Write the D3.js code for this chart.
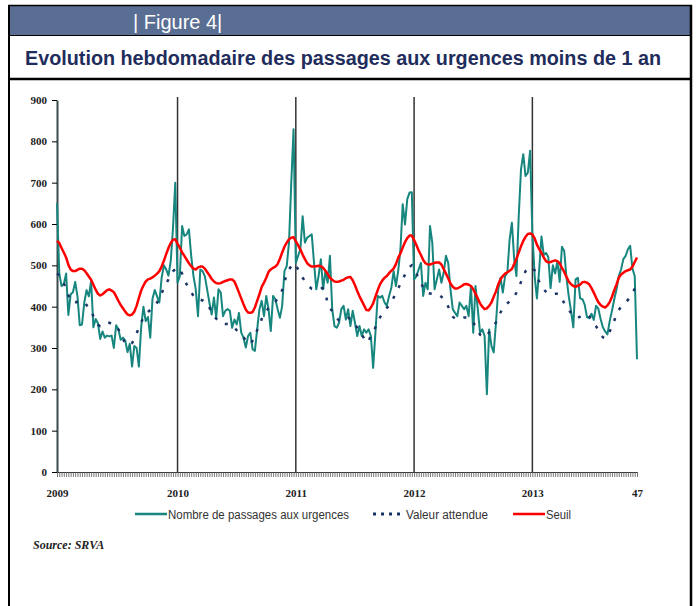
<!DOCTYPE html>
<html>
<head>
<meta charset="utf-8">
<script src="https://cdn.jsdelivr.net/npm/d3@7"></script>
<style>
body { margin: 0; background: #fff; }
.axis text { font-family: "Liberation Serif", "Times New Roman", serif; font-weight: bold; font-size: 11px; fill: #222; }
.legend text { font-family: "Liberation Sans", Arial, sans-serif; font-size: 12.5px; fill: #333; }
</style>
</head>
<body>
<div id="chart"></div>
<script>
// weekly values, 2009 week 1 -> 2013 week 47
var years = ['2009', '2010', '2011', '2012', '2013'];
var year_start = [0, 53, 105, 157, 209];
var last_week = 255;
var last_label = '47';
var y_ticks = [0, 100, 200, 300, 400, 500, 600, 700, 800, 900];
var legend_labels = ['Nombre de passages aux urgences', 'Valeur attendue', 'Seuil'];

var passages_2009 = [650,480,450,455,480,380,430,435,460,425, 355,357,410,440,425,462,350,370,360,322,
  340,325,330,328,330,300,355,345,320,325, 318,290,310,255,305,300,255,350,400,365,
  375,325,420,440,425,410,470,500,490,475, 510,590,700];
var passages_2010 = [458,474,595,571,575,587,523,474,442,377, 490,486,474,442,410,381,422,373,442,434,
  377,390,394,390,349,369,357,385,337,325, 301,329,337,297,293,345,394,414,377,426,
  394,341,426,418,394,373,402,486,498,555, 700,829];
var passages_2011 = [506,523,539,619,555,567,571,575,506,442, 474,515,442,486,458,523,394,353,349,361,
  394,402,369,394,353,390,361,329,353,329, 345,337,345,329,252,337,426,422,426,410,
  402,426,446,486,450,486,539,648,599,660, 676,677];
var passages_2012 = [466,474,490,506,426,458,442,595,555,442, 466,490,458,482,523,506,442,394,385,377,
  410,402,394,402,377,450,337,450,394,337, 345,329,188,345,305,289,361,442,470,434,
  474,482,563,603,515,474,619,732,769,716, 724,777];
var passages_2013 = [579,474,420,490,570,525,530,520,445,500, 480,510,460,545,535,470,425,390,350,466,
  470,420,418,405,375,372,383,368,402,395, 370,350,340,333,365,390,418,442,474,490,
  515,523,539,547,492,474,273];

var attendue_2009 = [480,476,467,456,444,428,414,410,410,412, 414,414,411,404,396,389,377,365,356,353,
  355,359,362,361,358,352,352,345,335,322, 312,306,308,312,321,335,350,362,373,381,
  387,392,398,404,410,420,432,445,455,466, 478,486,490];
var attendue_2010 = [495,490,480,466,454,445,435,426,419,417, 417,415,412,410,398,387,377,371,366,361,
  359,358,358,357,354,349,343,337,333,326, 318,311,309,318,331,343,357,370,382,390,
  396,402,406,412,420,430,440,460,478,490, 498,505];
var attendue_2011 = [500,490,480,470,462,455,448,443,442,443, 444,445,444,430,410,396,390,382,373,366,
  365,367,370,373,370,363,355,350,345,335, 322,313,318,328,337,350,365,374,382,390,
  397,402,412,422,433,444,455,466,478,488, 496,500];
var attendue_2012 = [490,480,468,458,446,436,433,432,431,430, 430,428,424,418,410,400,388,376,371,370,
  371,373,374,374,372,369,362,352,342,332, 328,326,330,338,345,354,362,374,386,396,
  403,408,413,418,424,434,446,460,472,486, 492,495];
var attendue_2013 = [495,488,475,460,450,442,436,432,430,430, 431,431,430,420,408,398,392,385,378,373,
  373,376,379,381,381,376,369,361,353,343, 333,326,323,330,340,352,366,382,392,400,
  406,412,416,424,433,443,448];

var seuil_2009 = [559,554,542,531,519,501,490,486,486,489, 492,492,488,481,473,465,453,441,431,427,
  430,435,440,442,439,435,425,414,404,396, 388,381,379,381,388,402,421,439,451,461,
  466,468,471,475,480,486,497,511,527,542, 554,562,563];
var seuil_2010 = [552,543,531,523,514,505,498,492,490,495, 497,497,492,484,476,467,461,457,456,457,
  460,462,464,466,466,461,448,434,420,406, 393,386,385,387,398,414,430,448,458,470,
  484,490,494,497,503,516,531,545,555,563, 567,568];
var seuil_2011 = [558,549,538,526,515,505,500,497,497,498, 499,498,494,487,479,470,465,461,460,461,
  463,465,469,471,472,464,452,438,425,414, 403,392,391,398,408,424,440,454,463,470,
  474,481,487,492,503,518,529,543,556,566, 572,572];
var seuil_2012 = [561,549,536,525,513,505,502,502,504,506, 507,507,502,491,480,469,456,448,444,444,
  447,450,454,455,453,450,442,431,420,408, 400,394,396,402,410,424,437,454,466,474,
  480,483,487,491,503,516,531,546,559,569, 576,577];
var seuil_2013 = [575,565,550,539,530,519,510,507,508,510, 512,510,505,494,484,472,461,454,450,448,
  451,453,459,460,458,454,445,434,422,411, 404,400,398,403,411,424,440,454,470,478,
  482,486,488,490,497,508,519];

var passages = [].concat(passages_2009, passages_2010, passages_2011, passages_2012, passages_2013);
var attendue = [].concat(attendue_2009, attendue_2010, attendue_2011, attendue_2012, attendue_2013);
var seuil = [].concat(seuil_2009, seuil_2010, seuil_2011, seuil_2012, seuil_2013);

var W = 696, H = 606;
var c_teal = '#17867f', c_navy = '#1b3566', c_red = '#ff0000';

var svg = d3.select('#chart').append('svg')
  .attr('width', W)
  .attr('height', H);

// frame and header
svg.append('rect').attr('x', 9).attr('y', 6).attr('width', 682).attr('height', 29).attr('fill', '#5a6d93');
svg.append('text')
  .attr('x', 133).attr('y', 29)
  .attr('fill', '#fff')
  .style('font-family', '"Liberation Sans", Arial, sans-serif')
  .style('font-size', '20px')
  .text('| Figure 4|');
svg.append('text')
  .attr('x', 25).attr('y', 65)
  .attr('fill', '#1f2d5c')
  .attr('textLength', 636)
  .attr('lengthAdjust', 'spacingAndGlyphs')
  .style('font-family', '"Liberation Sans", Arial, sans-serif')
  .style('font-weight', 'bold')
  .style('font-size', '20px')
  .text('Evolution hebdomadaire des passages aux urgences moins de 1 an');

var frame = svg.append('g').attr('stroke', '#000');
frame.append('line').attr('x1', 8).attr('x2', 692).attr('y1', 5.5).attr('y2', 5.5).attr('stroke-width', 1.5);
frame.append('line').attr('x1', 8).attr('x2', 692).attr('y1', 35.5).attr('y2', 35.5).attr('stroke-width', 1);
frame.append('line').attr('x1', 8).attr('x2', 692).attr('y1', 79).attr('y2', 79).attr('stroke-width', 2.5);
frame.append('line').attr('x1', 9).attr('x2', 9).attr('y1', 5).attr('y2', H).attr('stroke-width', 2);
frame.append('line').attr('x1', 691).attr('x2', 691).attr('y1', 5).attr('y2', H).attr('stroke-width', 2.5);

// scales
var x = d3.scaleLinear().domain([0, last_week]).range([57, 637]);
var y = d3.scaleLinear().domain([0, 900]).range([472, 100]);

// year separators
svg.selectAll('.year_line')
  .data(year_start.slice(1))
  .enter()
    .append('line')
    .attr('class', 'year_line')
    .attr('x1', function(d) { return x(d); })
    .attr('x2', function(d) { return x(d); })
    .attr('y1', y(900) - 3)
    .attr('y2', y(0))
    .attr('stroke', '#333')
    .attr('stroke-width', 1.5);

// axes
var y_axis = svg.append('g')
  .attr('class', 'axis')
  .attr('transform', 'translate(' + x(0) + ',0)')
  .call(d3.axisLeft(y).tickValues(y_ticks).tickSize(5).tickPadding(5).tickSizeOuter(0));
y_axis.select('.domain').attr('stroke', '#3b4b4b').attr('stroke-width', 2);

var x_ticks = svg.append('g')
  .attr('class', 'axis')
  .attr('transform', 'translate(0,' + y(0) + ')')
  .call(d3.axisBottom(x).tickValues(d3.range(0, last_week + 1)).tickSize(5).tickFormat('').tickSizeOuter(0));
x_ticks.selectAll('.tick line').attr('stroke', '#555').attr('stroke-width', 0.8);
x_ticks.select('.domain').attr('stroke', '#333').attr('stroke-width', 1.2);

var label_pos = year_start.concat([last_week]);
var label_text = years.concat([last_label]);
var x_labels = svg.append('g')
  .attr('class', 'axis')
  .attr('transform', 'translate(0,' + y(0) + ')')
  .call(d3.axisBottom(x).tickValues(label_pos).tickSize(0).tickPadding(17)
    .tickFormat(function(d, i) { return label_text[i]; }));
x_labels.select('.domain').remove();

// series
var week_line = d3.line()
  .x(function(d, i) { return x(i); })
  .y(function(d) { return y(d); });

svg.append('path')
  .attr('fill', 'none')
  .attr('stroke', c_teal)
  .attr('stroke-width', 2)
  .attr('stroke-linejoin', 'round')
  .attr('d', week_line(passages));

svg.append('path')
  .attr('fill', 'none')
  .attr('stroke', c_navy)
  .attr('stroke-width', 2.5)
  .attr('stroke-dasharray', '3,9')
  .attr('d', week_line(attendue));

svg.append('path')
  .attr('fill', 'none')
  .attr('stroke', c_red)
  .attr('stroke-width', 2.5)
  .attr('stroke-linejoin', 'round')
  .attr('d', week_line(seuil));

// legend
var legend = svg.append('g').attr('class', 'legend');
var legend_items = [
  { x: 135, color: c_teal, dash: null, w: 2.5, len: 181 },
  { x: 373, color: c_navy, dash: '3,5', w: 3, len: 82 },
  { x: 513, color: c_red, dash: null, w: 2.5, len: 25 }
];
legend_items.forEach(function(d, i) {
  legend.append('line')
    .attr('x1', d.x).attr('x2', d.x + 32)
    .attr('y1', 514).attr('y2', 514)
    .attr('stroke', d.color)
    .attr('stroke-width', d.w)
    .attr('stroke-dasharray', d.dash);
  legend.append('text')
    .attr('x', d.x + 33).attr('y', 519)
    .attr('textLength', d.len)
    .attr('lengthAdjust', 'spacingAndGlyphs')
    .text(legend_labels[i]);
});

svg.append('text')
  .attr('x', 33).attr('y', 549)
  .style('font-family', '"Liberation Serif", "Times New Roman", serif')
  .style('font-weight', 'bold')
  .style('font-style', 'italic')
  .style('font-size', '12px')
  .attr('fill', '#222')
  .text('Source: SRVA');
</script>
</body>
</html>
